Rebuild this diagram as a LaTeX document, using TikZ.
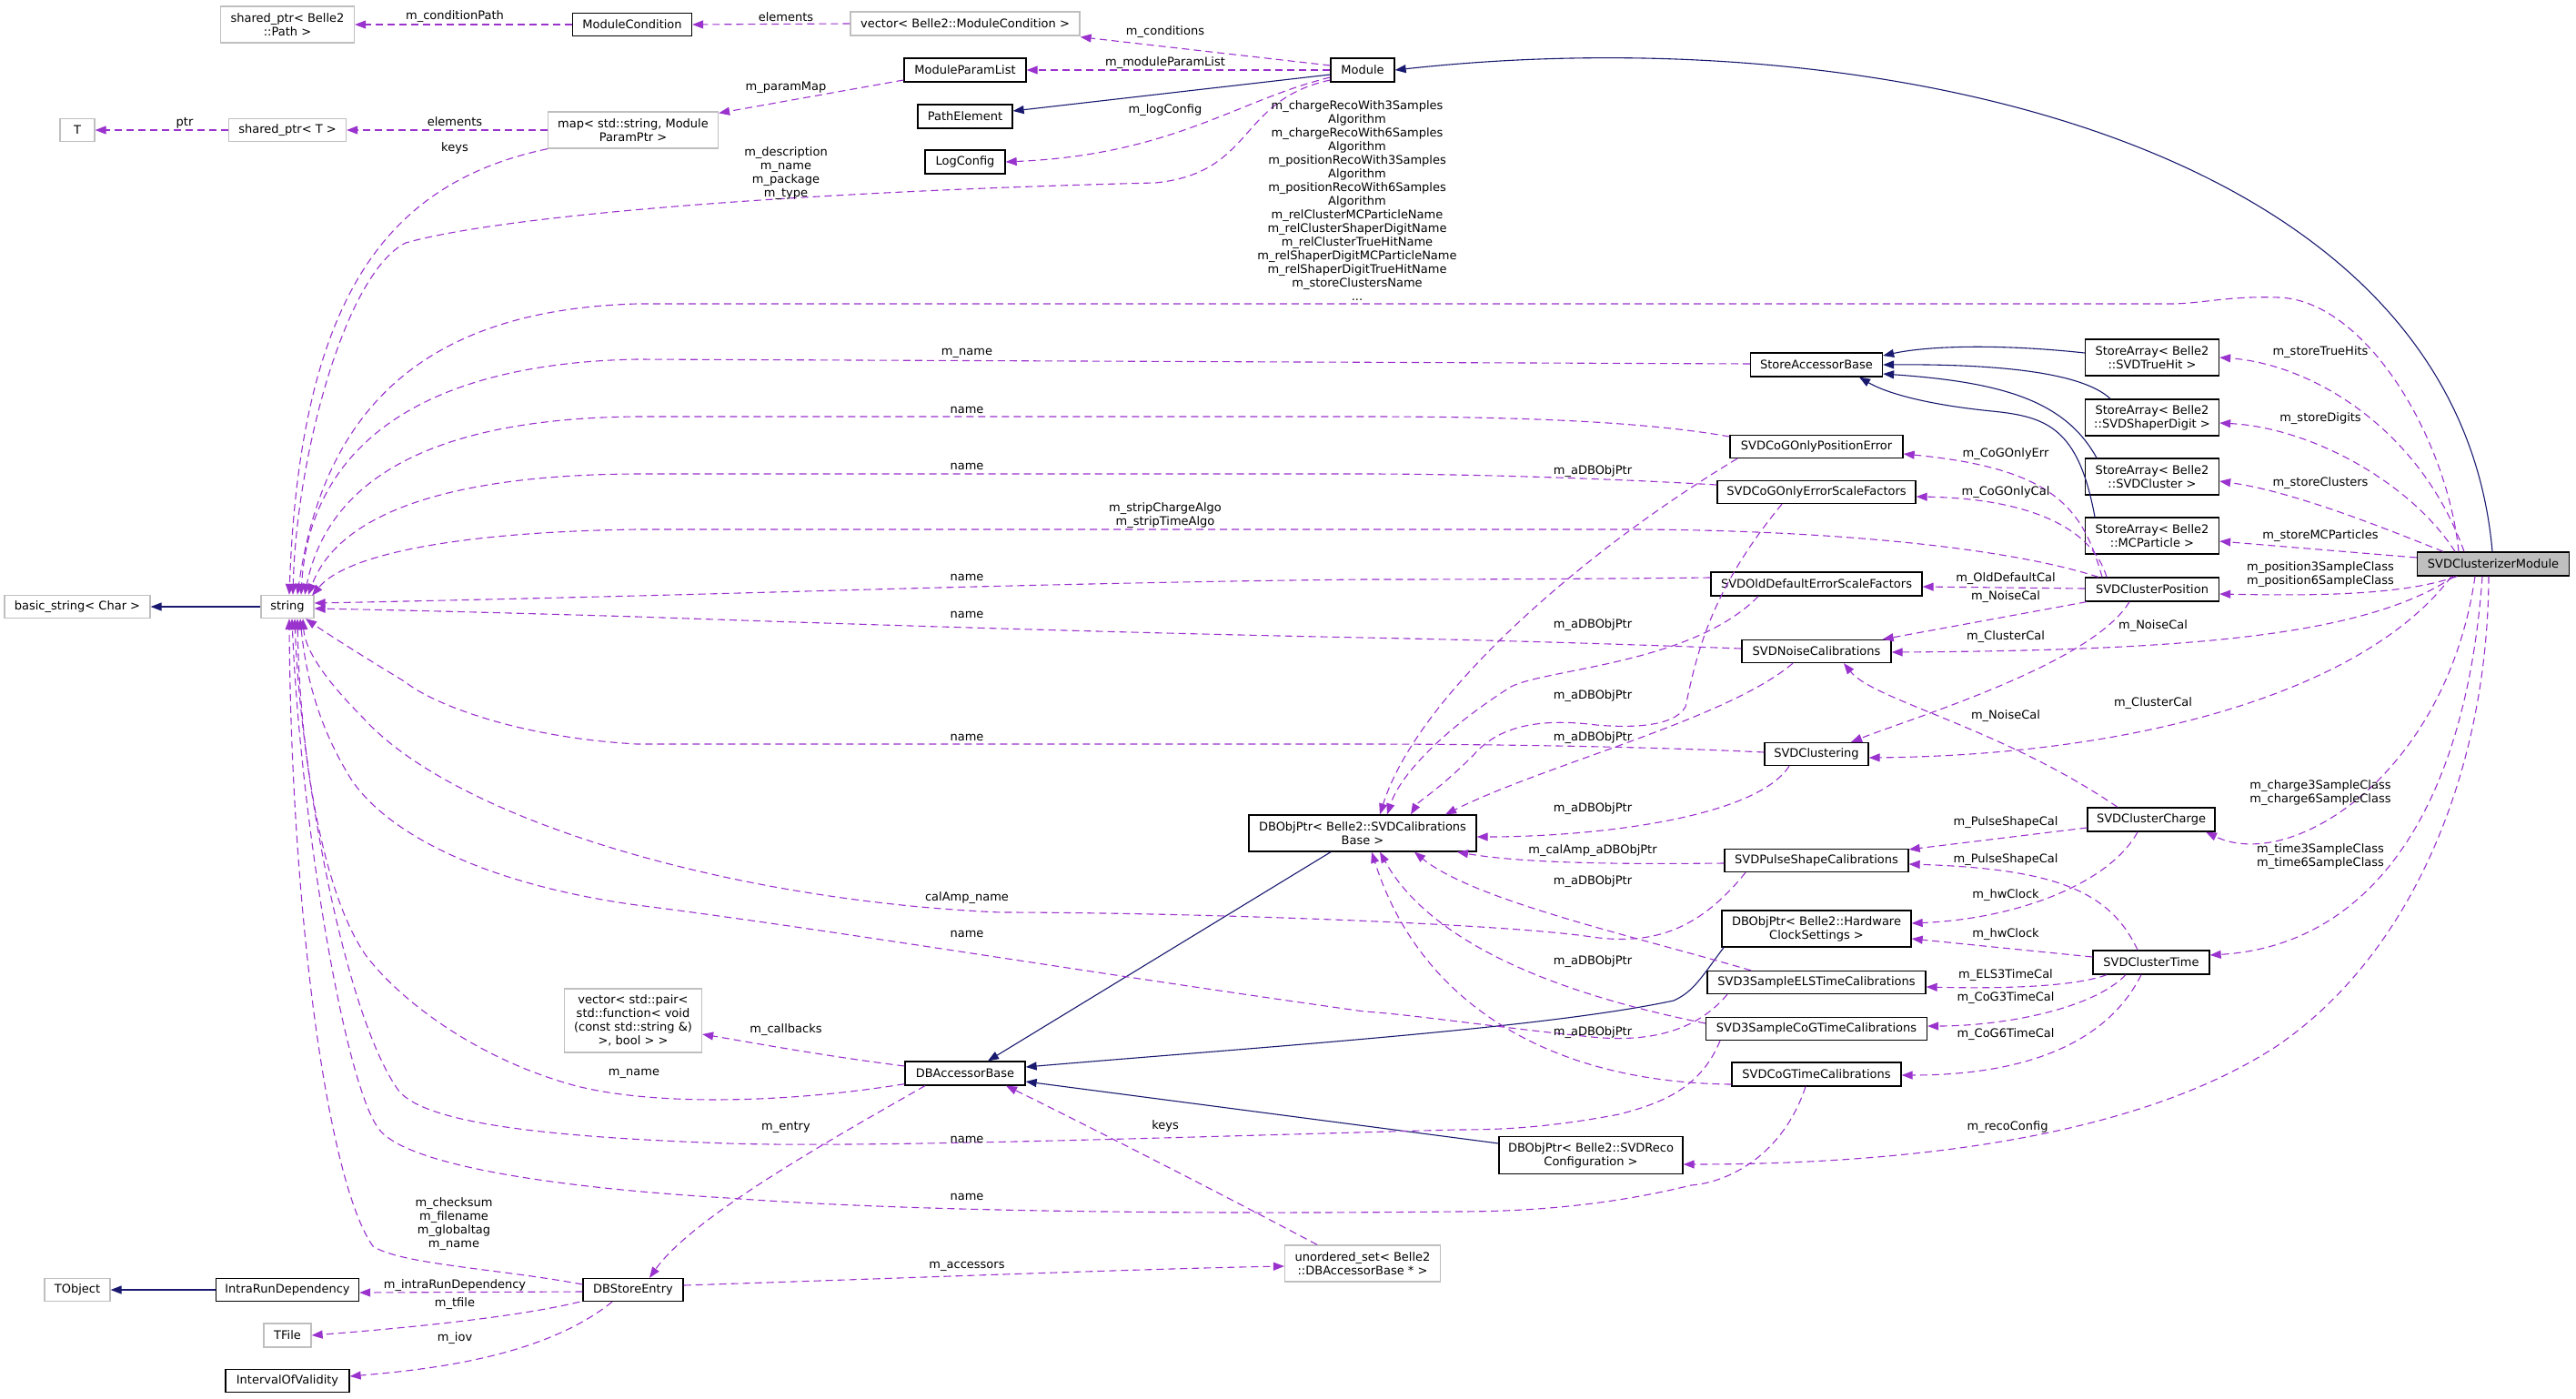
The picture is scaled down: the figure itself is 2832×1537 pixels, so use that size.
\documentclass[tikz,border=0pt]{standalone}
\usepackage{fontspec}
\setmainfont{DejaVu Sans}
\usetikzlibrary{arrows.meta}
\definecolor{edgep}{HTML}{9A32CD}
\definecolor{navyc}{HTML}{191970}
\definecolor{grayb}{HTML}{BFBFBF}
\definecolor{fillg}{HTML}{BFBFBF}
\begin{document}
\begin{tikzpicture}[x=1pt,y=-1pt,
 font=\fontsize{13}{15}\selectfont,
 box/.style={draw=black, line width=1.3pt, fill=white, inner sep=0pt, align=center},
 ubox/.style={draw=grayb, line width=1.3pt, fill=white, inner sep=0pt, align=center},
 lbl/.style={inner sep=0pt, align=center},
 use/.style={draw=edgep, line width=1.1pt, dash pattern=on 8pt off 5pt, -{Triangle[length=12pt,width=9pt,fill=edgep]}},
 inh/.style={draw=navyc, line width=1.1pt, -{Triangle[length=12pt,width=9pt,fill=navyc]}},
]
\fill[white] (0,0) rectangle (2832,1537);
\useasboundingbox (0,0) rectangle (2832,1537);

% ---------- nodes ----------
\node[ubox, minimum width=147pt, minimum height=40pt] (spPath) at (316,27) {shared\_ptr< Belle2\\::Path >};
\node[box, minimum width=131pt, minimum height=25pt] (modCond) at (695,27) {ModuleCondition};
\node[ubox, minimum width=252pt, minimum height=26pt] (vecMC) at (1061,26) {vector< Belle2::ModuleCondition >};
\node[box, minimum width=134pt, minimum height=26pt] (modParam) at (1061,77) {ModuleParamList};
\node[box, minimum width=70pt, minimum height=26pt] (module) at (1498,77) {Module};
\node[box, minimum width=104pt, minimum height=26pt] (pathEl) at (1061,128) {PathElement};
\node[box, minimum width=88pt, minimum height=26pt] (logCfg) at (1061,178) {LogConfig};
\node[ubox, minimum width=187pt, minimum height=40pt] (mapN) at (696,143) {map< std::string, Module\\ParamPtr >};
\node[ubox, minimum width=129pt, minimum height=25pt] (spT) at (316,143) {shared\_ptr< T >};
\node[ubox, minimum width=38pt, minimum height=25pt] (tN) at (85,143) {T};
\node[ubox, minimum width=160pt, minimum height=25pt] (basicStr) at (85,667) {basic\_string< Char >};
\node[ubox, minimum width=58pt, minimum height=25pt] (strN) at (316,667) {string};
\node[box, minimum width=145pt, minimum height=26pt] (sab) at (1997,401) {StoreAccessorBase};
\node[box, minimum width=147pt, minimum height=40pt] (saTH) at (2366,393) {StoreArray< Belle2\\::SVDTrueHit >};
\node[box, minimum width=147pt, minimum height=40pt] (saSD) at (2366,459) {StoreArray< Belle2\\::SVDShaperDigit >};
\node[box, minimum width=147pt, minimum height=40pt] (saCl) at (2366,524) {StoreArray< Belle2\\::SVDCluster >};
\node[box, minimum width=147pt, minimum height=40pt] (saMC) at (2366,589) {StoreArray< Belle2\\::MCParticle >};
\node[box, fill=fillg, minimum width=167pt, minimum height=26pt] (clMod) at (2741,620) {SVDClusterizerModule};
\node[box, minimum width=190pt, minimum height=25pt] (cogPE) at (1997,491) {SVDCoGOnlyPositionError};
\node[box, minimum width=218pt, minimum height=25pt] (cogSF) at (1997,541) {SVDCoGOnlyErrorScaleFactors};
\node[box, minimum width=232pt, minimum height=26pt] (oldSF) at (1997,642) {SVDOldDefaultErrorScaleFactors};
\node[box, minimum width=147pt, minimum height=26pt] (clPos) at (2366,648) {SVDClusterPosition};
\node[box, minimum width=164pt, minimum height=25pt] (noise) at (1997,716) {SVDNoiseCalibrations};
\node[box, minimum width=114pt, minimum height=25pt] (clust) at (1997,829) {SVDClustering};
\node[box, minimum width=250pt, minimum height=40pt] (calBase) at (1498,916) {DBObjPtr< Belle2::SVDCalibrations\\Base >};
\node[box, minimum width=140pt, minimum height=26pt] (clCharge) at (2365,901) {SVDClusterCharge};
\node[box, minimum width=202pt, minimum height=25pt] (pulse) at (1997,946) {SVDPulseShapeCalibrations};
\node[box, minimum width=208pt, minimum height=40pt] (hw) at (1997,1021) {DBObjPtr< Belle2::Hardware\\ClockSettings >};
\node[box, minimum width=128pt, minimum height=26pt] (clTime) at (2365,1058) {SVDClusterTime};
\node[box, minimum width=240pt, minimum height=25pt] (els3) at (1997,1080) {SVD3SampleELSTimeCalibrations};
\node[box, minimum width=243pt, minimum height=25pt] (cog3) at (1997,1131) {SVD3SampleCoGTimeCalibrations};
\node[box, minimum width=186pt, minimum height=26pt] (cogT) at (1997,1181) {SVDCoGTimeCalibrations};
\node[box, minimum width=202pt, minimum height=41pt] (reco) at (1749,1270) {DBObjPtr< Belle2::SVDReco\\Configuration >};
\node[box, minimum width=132pt, minimum height=26pt] (dbab) at (1061,1180) {DBAccessorBase};
\node[ubox, minimum width=171pt, minimum height=40pt] (uset) at (1498,1389) {unordered\_set< Belle2\\::DBAccessorBase * >};
\node[ubox, minimum width=151pt, minimum height=70pt] (vecPair) at (696,1122) {vector< std::pair<\\std::function< void\\(const std::string \&)\\>, bool > >};
\node[box, minimum width=110pt, minimum height=25pt] (dbse) at (696,1418) {DBStoreEntry};
\node[box, minimum width=157pt, minimum height=25pt] (intra) at (316,1418) {IntraRunDependency};
\node[ubox, minimum width=72pt, minimum height=25pt] (tobj) at (85,1418) {TObject};
\node[ubox, minimum width=52pt, minimum height=26pt] (tfile) at (316,1468) {TFile};
\node[box, minimum width=136pt, minimum height=25pt] (iov) at (316,1518) {IntervalOfValidity};

% ---------- inheritance ----------
\draw[inh] ([shift={(0,5)}]module.west) -- ([shift={(0,-6)}]pathEl.east);
\draw[inh] ([shift={(-1,0)}]clMod.north) .. controls (2700,150) and (2050,20) .. (module.east);
\draw[inh] (strN.west) -- (basicStr.east);
\draw[inh] ([shift={(0,-5)}]saTH.west) .. controls (2200,378) and (2120,380) .. ([shift={(0,-10)}]sab.east);
\draw[inh] ([shift={(-46,0)}]saSD.north) .. controls (2290,410) and (2200,400) .. (sab.east);
\draw[inh] ([shift={(-61,0)}]saCl.north) .. controls (2270,440) and (2200,420) .. ([shift={(0,10)}]sab.east);
\draw[inh] ([shift={(-63,0)}]saMC.north) .. controls (2285,470) and (2250,458) .. (2190,452) .. controls (2110,444) and (2070,430) .. ([shift={(47,0)}]sab.south);
\draw[inh] ([shift={(-35,0)}]calBase.south) -- ([shift={(25,0)}]dbab.north);
\draw[inh] ([shift={(-102,0)}]hw.south) .. controls (1870,1075) and (1862,1090) .. (1840,1100) .. controls (1700,1130) and (1400,1150) .. ([shift={(0,-7)}]dbab.east);
\draw[inh] ([shift={(0,-13)}]reco.west) -- ([shift={(0,9)}]dbab.east);
\draw[inh] (intra.west) -- (tobj.east);

% ---------- usage: top ----------
\draw[use] (modCond.west) -- (spPath.east);
\draw[use] (vecMC.west) -- (modCond.east);
\draw[use] ([shift={(0,-5)}]module.west) -- ([shift={(0,1)}]vecMC.south east);
\draw[use] (module.west) -- (modParam.east);
\draw[use] ([shift={(0,8)}]module.west) .. controls (1360,110) and (1290,170) .. (logCfg.east);
\draw[use] ([shift={(0,11)}]modParam.west) -- ([shift={(0,2)}]mapN.north east);
\draw[use] (mapN.west) -- (spT.east);
\draw[use] (spT.west) -- (tN.east);
\draw[use] (mapN.south west) .. controls (430,200) and (330,320) .. ([shift={(2,0)}]strN.north);
\draw[use] ([shift={(0,11)}]module.west) .. controls (1360,110) and (1380,190) .. (1270,201) .. controls (900,210) and (560,235) .. (446,267) .. controls (380,300) and (326,500) .. ([shift={(6,0)}]strN.north);
\draw[use] ([shift={(-38,0)}]clMod.north) .. controls (2690,480) and (2600,330) .. (2505,327) .. controls (2450,325) and (2420,334) .. (2386,334) -- (700,334) .. controls (500,340) and (360,420) .. ([shift={(11,0)}]strN.north);

% ---------- usage: to string ----------
\draw[use] ([shift={(0,-1)}]sab.west) -- (700,395) .. controls (450,400) and (340,500) .. ([shift={(15,0)}]strN.north);
\draw[use] ([shift={(0,-11)}]cogPE.west) .. controls (1800,462) and (1650,458) .. (1500,458) -- (700,458) .. controls (470,460) and (360,530) .. ([shift={(19,0)}]strN.north);
\draw[use] ([shift={(0,-8)}]cogSF.west) .. controls (1750,525) and (1600,521) .. (1500,521) -- (700,521) .. controls (480,522) and (370,570) .. ([shift={(23,0)}]strN.north);
\draw[use] ([shift={(-59,0)}]clPos.north) .. controls (2200,600) and (2000,583) .. (1800,582) -- (700,582) .. controls (500,585) and (380,610) .. ([shift={(27,1)}]strN.north);
\draw[use] ([shift={(0,-7)}]oldSF.west) .. controls (1700,637) and (1550,637) .. (1500,637) .. controls (1200,640) and (900,650) .. (700,655) .. controls (500,660) and (400,662) .. ([shift={(0,-4)}]strN.east);
\draw[use] ([shift={(0,-3)}]noise.west) .. controls (1700,705) and (1550,702) .. (1500,701) .. controls (1200,695) and (900,685) .. (700,678) .. controls (500,672) and (400,670) .. ([shift={(0,2)}]strN.east);
\draw[use] ([shift={(0,-2)}]clust.west) .. controls (1800,820) and (1600,818) .. (1500,818) -- (700,818) .. controls (560,810) and (470,770) .. (446,750) .. controls (380,710) and (350,690) .. ([shift={(20,0)}]strN.south);
\draw[use] ([shift={(-78,0)}]pulse.south) .. controls (1870,1020) and (1820,1040) .. (1750,1030) .. controls (1650,1015) and (1300,1003) .. (1100,1003) .. controls (800,990) and (500,900) .. (400,790) .. controls (350,740) and (335,710) .. ([shift={(17,0)}]strN.south);
\draw[use] ([shift={(-98,0)}]els3.south) .. controls (1860,1140) and (1800,1145) .. (1750,1140) .. controls (1650,1130) and (1550,1115) .. (1500,1112) .. controls (1200,1070) and (900,1020) .. (700,995) .. controls (520,970) and (420,910) .. (385,855) .. controls (345,790) and (335,730) .. ([shift={(14,0)}]strN.south);
\draw[use] ([shift={(0,-2)}]dbab.south west) .. controls (850,1215) and (700,1215) .. (620,1190) .. controls (520,1160) and (440,1100) .. (402,1050) .. controls (360,990) and (330,850) .. ([shift={(11,0)}]strN.south);
\draw[use] ([shift={(-106,0)}]cog3.south) .. controls (1870,1195) and (1830,1212) .. (1780,1225) .. controls (1700,1240) and (1650,1242) .. (1600,1242) .. controls (1300,1250) and (950,1262) .. (800,1257) .. controls (600,1250) and (470,1235) .. (439,1200) .. controls (380,1120) and (330,850) .. ([shift={(8,0)}]strN.south);
\draw[use] ([shift={(-12,0)}]cogT.south) .. controls (1960,1270) and (1900,1300) .. (1859,1303) .. controls (1750,1330) and (1650,1332) .. (1600,1332) .. controls (1300,1335) and (1000,1332) .. (800,1317) .. controls (600,1305) and (450,1280) .. (418,1243) .. controls (380,1200) and (330,900) .. ([shift={(5,0)}]strN.south);
\draw[use] ([shift={(0,-6)}]dbse.west) .. controls (550,1395) and (440,1390) .. (410,1370) .. controls (360,1300) and (320,1000) .. ([shift={(2,0)}]strN.south);

% ---------- usage: from SVDClusterizerModule ----------
\draw[use] ([shift={(-32,0)}]clMod.north) .. controls (2660,470) and (2540,400) .. (saTH.east);
\draw[use] ([shift={(-42,0)}]clMod.north) .. controls (2650,530) and (2540,470) .. ([shift={(0,6)}]saSD.east);
\draw[use] ([shift={(-55,0)}]clMod.north) .. controls (2620,580) and (2520,540) .. ([shift={(0,5)}]saCl.east);
\draw[use] ([shift={(0,-7)}]clMod.west) -- ([shift={(0,6)}]saMC.east);
\draw[use] ([shift={(-40,0)}]clMod.south) .. controls (2640,655) and (2540,655) .. ([shift={(0,5)}]clPos.east);
\draw[use] ([shift={(-43,0)}]clMod.south) .. controls (2600,700) and (2400,715) .. ([shift={(0,1)}]noise.east);
\draw[use] ([shift={(-46,0)}]clMod.south) .. controls (2600,760) and (2350,830) .. ([shift={(0,4)}]clust.east);
\draw[use] ([shift={(-20,0)}]clMod.south) .. controls (2690,850) and (2520,960) .. ([shift={(60,0)}]clCharge.south);
\draw[use] ([shift={(-12,0)}]clMod.south) .. controls (2710,900) and (2600,1040) .. ([shift={(0,-8)}]clTime.east);
\draw[use] ([shift={(-5,0)}]clMod.south) .. controls (2735,850) and (2650,1050) .. (2503,1150) .. controls (2350,1250) and (2100,1280) .. ([shift={(0,10)}]reco.east);

% ---------- usage: position / charge / time ----------
\draw[use] ([shift={(-55,0)}]clPos.north) .. controls (2290,560) and (2260,515) .. ([shift={(0,8)}]cogPE.east);
\draw[use] ([shift={(-50,0)}]clPos.north) .. controls (2300,580) and (2230,548) .. ([shift={(0,5)}]cogSF.east);
\draw[use] ([shift={(0,-1)}]clPos.west) -- ([shift={(0,3)}]oldSF.east);
\draw[use] ([shift={(2,0)}]clPos.south west) -- ([shift={(-10,0)}]noise.north east);
\draw[use] ([shift={(-25,0)}]clPos.south) .. controls (2300,730) and (2100,790) .. ([shift={(38,0)}]clust.north);
\draw[use] ([shift={(-37,0)}]clCharge.north) .. controls (2200,800) and (2060,770) .. ([shift={(30,0)}]noise.south);
\draw[use] ([shift={(0,9)}]clCharge.west) -- ([shift={(0,1)}]pulse.north east);
\draw[use] ([shift={(-15,0)}]clCharge.south) .. controls (2320,970) and (2220,1010) .. ([shift={(0,-6)}]hw.east);
\draw[use] ([shift={(-15,0)}]clTime.north) .. controls (2320,980) and (2260,955) .. ([shift={(0,4)}]pulse.east);
\draw[use] ([shift={(0,-6)}]clTime.west) -- ([shift={(0,11)}]hw.east);
\draw[use] ([shift={(-49,0)}]clTime.south) .. controls (2280,1085) and (2200,1087) .. ([shift={(0,5)}]els3.east);
\draw[use] ([shift={(-28,0)}]clTime.south) .. controls (2300,1110) and (2200,1128) .. ([shift={(0,-3)}]cog3.east);
\draw[use] ([shift={(-11,0)}]clTime.south) .. controls (2310,1160) and (2200,1182) .. ([shift={(0,1)}]cogT.east);

% ---------- usage: to DBObjPtr<SVDCalibrationsBase> ----------
\draw[use] ([shift={(-87,0)}]cogPE.south) .. controls (1750,600) and (1560,760) .. ([shift={(19,0)}]calBase.north);
\draw[use] ([shift={(-38,0)}]cogSF.south) .. controls (1880,650) and (1865,720) .. (1853,777) .. controls (1840,800) and (1790,800) .. (1755,797) .. controls (1700,790) and (1650,795) .. (1620,830) .. controls (1580,870) and (1560,880) .. ([shift={(53,0)}]calBase.north);
\draw[use] ([shift={(-64,0)}]oldSF.south) .. controls (1860,730) and (1700,735) .. (1661,755) .. controls (1590,800) and (1540,850) .. ([shift={(27,0)}]calBase.north);
\draw[use] ([shift={(-26,0)}]noise.south) .. controls (1900,790) and (1700,840) .. ([shift={(91,0)}]calBase.north);
\draw[use] ([shift={(-30,0)}]clust.south) .. controls (1930,900) and (1750,920) .. ([shift={(0,4)}]calBase.east);
\draw[use] ([shift={(0,3)}]pulse.west) .. controls (1800,950) and (1680,950) .. ([shift={(104,0)}]calBase.south);
\draw[use] ([shift={(-72,0)}]els3.north) .. controls (1800,1030) and (1620,990) .. ([shift={(57,0)}]calBase.south);
\draw[use] ([shift={(0,-6)}]cog3.west) .. controls (1750,1100) and (1580,1050) .. ([shift={(19,0)}]calBase.south);
\draw[use] ([shift={(0,11)}]cogT.west) .. controls (1700,1190) and (1560,1100) .. ([shift={(10,0)}]calBase.south);

% ---------- usage: DB accessor ----------
\draw[use] ([shift={(0,-8)}]dbab.west) .. controls (900,1160) and (820,1145) .. ([shift={(0,15)}]vecPair.east);
\draw[use] ([shift={(-44,0)}]dbab.south) .. controls (900,1260) and (760,1340) .. ([shift={(18,0)}]dbse.north);
\draw[use] ([shift={(-50,0)}]uset.north) .. controls (1300,1290) and (1150,1215) .. ([shift={(45,0)}]dbab.south);
\draw[use] ([shift={(0,-5)}]dbse.east) .. controls (1000,1405) and (1250,1395) .. ([shift={(0,3)}]uset.west);
\draw[use] ([shift={(0,2)}]dbse.west) -- ([shift={(0,3)}]intra.east);
\draw[use] ([shift={(-3,0)}]dbse.south west) .. controls (560,1450) and (420,1462) .. (tfile.east);
\draw[use] ([shift={(-23,0)}]dbse.south) .. controls (600,1490) and (480,1505) .. ([shift={(0,-5)}]iov.east);

% ---------- labels ----------
\node[lbl] (l1) at (500,18) {m\_conditionPath};
\node[lbl] (l2) at (864,19) {elements};
\node[lbl] (l3) at (1281,35) {m\_conditions};
\node[lbl] (l4) at (1281,69) {m\_moduleParamList};
\node[lbl] (l5) at (864,96) {m\_paramMap};
\node[lbl] (l6) at (1281,121) {m\_logConfig};
\node[lbl] (l7) at (203,135) {ptr};
\node[lbl] (l8) at (500,134) {elements};
\node[lbl] (l9) at (500,163) {keys};
\node[lbl] (l10) at (864,191) {m\_description\\m\_name\\m\_package\\m\_type};
\node[lbl] (l11) at (1492,221) {m\_chargeRecoWith3Samples\\Algorithm\\m\_chargeRecoWith6Samples\\Algorithm\\m\_positionRecoWith3Samples\\Algorithm\\m\_positionRecoWith6Samples\\Algorithm\\m\_relClusterMCParticleName\\m\_relClusterShaperDigitName\\m\_relClusterTrueHitName\\m\_relShaperDigitMCParticleName\\m\_relShaperDigitTrueHitName\\m\_storeClustersName\\...};
\node[lbl] (l12) at (1063,388) {m\_name};
\node[lbl] (l13) at (1063,451) {name};
\node[lbl] (l14) at (1063,513) {name};
\node[lbl] (l15) at (1281,567) {m\_stripChargeAlgo\\m\_stripTimeAlgo};
\node[lbl] (l16) at (1063,635) {name};
\node[lbl] (l17) at (1063,676) {name};
\node[lbl] (l18) at (1063,811) {name};
\node[lbl] (l19) at (1063,987) {calAmp\_name};
\node[lbl] (l20) at (1063,1027) {name};
\node[lbl] (l21) at (697,1180) {m\_name};
\node[lbl] (l22) at (864,1132) {m\_callbacks};
\node[lbl] (l23) at (864,1239) {m\_entry};
\node[lbl] (l24) at (1063,1253) {name};
\node[lbl] (l25) at (1281,1238) {keys};
\node[lbl] (l26) at (1063,1316) {name};
\node[lbl] (l27) at (1063,1392) {m\_accessors};
\node[lbl] (l28) at (499,1346) {m\_checksum\\m\_filename\\m\_globaltag\\m\_name};
\node[lbl] (l29) at (500,1413) {m\_intraRunDependency};
\node[lbl] (l30) at (500,1433) {m\_tfile};
\node[lbl] (l31) at (500,1471) {m\_iov};
\node[lbl] (a1) at (1751,518) {m\_aDBObjPtr};
\node[lbl] (a2) at (1751,687) {m\_aDBObjPtr};
\node[lbl] (a3) at (1751,765) {m\_aDBObjPtr};
\node[lbl] (a4) at (1751,811) {m\_aDBObjPtr};
\node[lbl] (a5) at (1751,889) {m\_aDBObjPtr};
\node[lbl] (a6) at (1751,935) {m\_calAmp\_aDBObjPtr};
\node[lbl] (a7) at (1751,969) {m\_aDBObjPtr};
\node[lbl] (a8) at (1751,1057) {m\_aDBObjPtr};
\node[lbl] (a9) at (1751,1135) {m\_aDBObjPtr};
\node[lbl] (r1) at (2205,499) {m\_CoGOnlyErr};
\node[lbl] (r2) at (2205,541) {m\_CoGOnlyCal};
\node[lbl] (r3) at (2205,636) {m\_OldDefaultCal};
\node[lbl] (r4) at (2205,656) {m\_NoiseCal};
\node[lbl] (r5) at (2205,700) {m\_ClusterCal};
\node[lbl] (r6) at (2205,787) {m\_NoiseCal};
\node[lbl] (r7) at (2205,904) {m\_PulseShapeCal};
\node[lbl] (r8) at (2205,945) {m\_PulseShapeCal};
\node[lbl] (r9) at (2205,984) {m\_hwClock};
\node[lbl] (r10) at (2205,1027) {m\_hwClock};
\node[lbl] (r11) at (2205,1072) {m\_ELS3TimeCal};
\node[lbl] (r12) at (2205,1097) {m\_CoG3TimeCal};
\node[lbl] (r13) at (2205,1137) {m\_CoG6TimeCal};
\node[lbl] (r14) at (2367,688) {m\_NoiseCal};
\node[lbl] (r15) at (2367,773) {m\_ClusterCal};
\node[lbl] (r16) at (2207,1239) {m\_recoConfig};
\node[lbl] (s1) at (2551,387) {m\_storeTrueHits};
\node[lbl] (s2) at (2551,460) {m\_storeDigits};
\node[lbl] (s3) at (2551,531) {m\_storeClusters};
\node[lbl] (s4) at (2551,589) {m\_storeMCParticles};
\node[lbl] (s5) at (2551,632) {m\_position3SampleClass\\m\_position6SampleClass};
\node[lbl] (s6) at (2551,872) {m\_charge3SampleClass\\m\_charge6SampleClass};
\node[lbl] (s7) at (2551,942) {m\_time3SampleClass\\m\_time6SampleClass};
\end{tikzpicture}
\end{document}
